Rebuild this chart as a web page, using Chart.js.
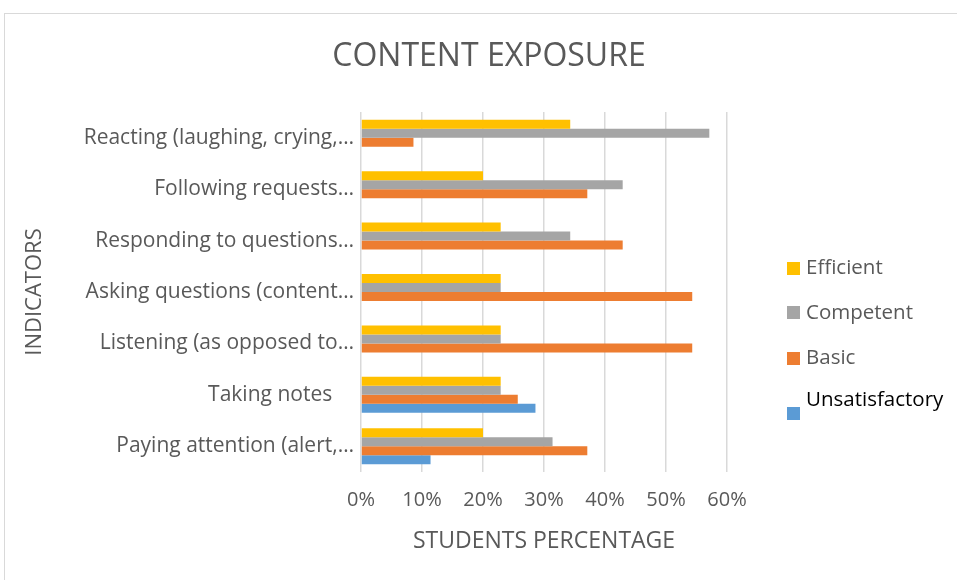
<!DOCTYPE html>
<html>
<head>
<meta charset="utf-8">
<script src="https://cdn.jsdelivr.net/npm/chart.js@4/dist/chart.umd.min.js"></script>
<style>
  html, body { margin: 0; padding: 0; background: #ffffff; }
  #wrap { width: 957px; height: 580px; position: relative; }
</style>
</head>
<body>
<div id="wrap"><canvas id="c" width="957" height="580"></canvas></div>
<script>
// Indicators, listed top to bottom
const indicators = [
  'Reacting (laughing, crying,…',
  'Following requests…',
  'Responding to questions…',
  'Asking questions (content…',
  'Listening (as opposed to…',
  'Taking notes    ',
  'Paying attention (alert,…'
];

// Share of students (%) at each level
const efficient      = [34.3, 20.0, 22.9, 22.9, 22.9, 22.9, 20.0];
const competent      = [57.1, 42.9, 34.3, 22.9, 22.9, 22.9, 31.4];
const basic          = [8.6, 37.1, 42.9, 54.3, 54.3, 25.7, 37.1];
const unsatisfactory = [null, null, null, null, null, 28.6, 11.4];

const levelNames = ['Efficient', 'Competent', 'Basic', 'Unsatisfactory'];
const levelColors = ['#FFC000', '#A5A5A5', '#ED7D31', '#5B9BD5'];
const xTicks = [0, 10, 20, 30, 40, 50, 60];
const chartTitle = 'CONTENT EXPOSURE';

const FONT = '"Open Sans", "Noto Sans", sans-serif';
const GREY_TEXT = '#595959';

// Outer chart frame and the centred title
const framePlugin = {
  id: 'frame',
  beforeDraw(chart) {
    const ctx = chart.ctx;
    ctx.save();
    ctx.strokeStyle = '#d9d9d9';
    ctx.lineWidth = 1;
    ctx.strokeRect(4.5, 13.5, 1200, 1200);
    ctx.fillStyle = GREY_TEXT;
    ctx.font = '32px ' + FONT;
    ctx.textAlign = 'center';
    ctx.textBaseline = 'middle';
    ctx.fillText(chartTitle, 489, 57);
    ctx.restore();
  }
};

// Legend drawn at the right of the plot
const legendPlugin = {
  id: 'sideLegend',
  afterDraw(chart) {
    const ctx = chart.ctx;
    const items = [
      { box: 262, text: 268, color: GREY_TEXT },
      { box: 306, text: 313, color: GREY_TEXT },
      { box: 352, text: 358, color: GREY_TEXT },
      { box: 407, text: 400, color: '#000000' }
    ];
    ctx.save();
    ctx.font = '20.5px ' + FONT;
    ctx.textBaseline = 'middle';
    ctx.textAlign = 'left';
    items.forEach((it, i) => {
      ctx.fillStyle = levelColors[i];
      ctx.fillRect(787, it.box, 13, 13);
      ctx.fillStyle = it.color;
      ctx.fillText(chart.data.datasets[i].label, 806, it.text);
    });
    ctx.restore();
  }
};

const seriesData = [efficient, competent, basic, unsatisfactory];

new Chart(document.getElementById('c'), {
  type: 'bar',
  data: {
    labels: indicators,
    datasets: levelNames.map((name, i) => ({
      label: name,
      data: seriesData[i],
      backgroundColor: levelColors[i],
      borderWidth: 0,
      categoryPercentage: 0.7,
      barPercentage: 1.0
    }))
  },
  options: {
    indexAxis: 'y',
    responsive: false,
    animation: false,
    layout: { padding: { left: 0, right: 230, top: 112, bottom: 0 } },
    plugins: {
      legend: { display: false },
      tooltip: { enabled: false },
      title: { display: false }
    },
    scales: {
      x: {
        min: 0,
        max: 60,
        afterBuildTicks(scale) {
          scale.ticks = xTicks.map(v => ({ value: v }));
        },
        afterFit(scale) { scale.height = 108; },
        grid: { color: '#d9d9d9', lineWidth: 1.5, drawTicks: false },
        border: { display: false },
        ticks: {
          color: GREY_TEXT,
          padding: 16,
          font: { family: FONT, size: 20 },
          callback: v => v + '%'
        },
        title: {
          display: true,
          text: 'STUDENTS PERCENTAGE',
          color: GREY_TEXT,
          font: { family: FONT, size: 23 },
          padding: { top: 0, bottom: 25 }
        }
      },
      y: {
        afterFit(scale) { scale.width = 361; },
        grid: { display: false, drawTicks: false },
        border: { display: false },
        ticks: {
          color: GREY_TEXT,
          padding: 7,
          autoSkip: false,
          font: { family: FONT, size: 21 }
        },
        title: {
          display: true,
          text: 'INDICATORS',
          color: GREY_TEXT,
          font: { family: FONT, size: 22 },
          padding: { top: 22, bottom: 0 }
        }
      }
    }
  },
  plugins: [framePlugin, legendPlugin]
});
</script>
</body>
</html>
